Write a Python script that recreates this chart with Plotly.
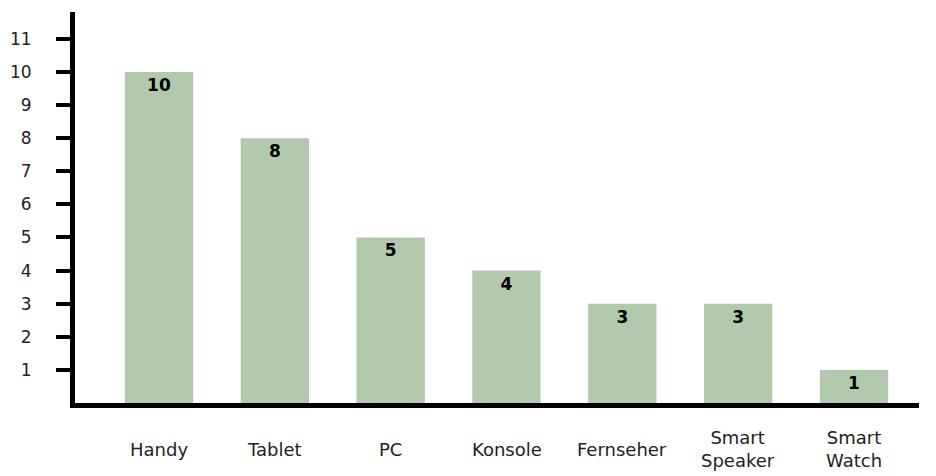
import plotly.graph_objects as go

# devices and counts
geraete = ['Handy', 'Tablet', 'PC', 'Konsole', 'Fernseher', 'Smart<br>Speaker', 'Smart<br>Watch']
anzahl = [10, 8, 5, 4, 3, 3, 1]
y_ticks = list(range(1, 12))

bar_color = '#b3c9ae'
font_fam = 'DejaVu Sans, sans-serif'

# page has an 8px body margin, so the figure is kept a bit smaller than the window
fig = go.Figure(go.Bar(
    x=geraete,
    y=anzahl,
    marker=dict(color=bar_color, line=dict(width=0)),
    text=[str(v) for v in anzahl],
    textposition='inside',
    insidetextanchor='end',
    textfont=dict(family=font_fam, size=17, color='black', weight='bold'),
    hoverinfo='x+y',
))

# category labels, vertically centred under each bar (like the original)
for g in geraete:
    fig.add_annotation(x=g, y=-0.118, xref='x', yref='paper',
                       text=g, showarrow=False, yanchor='middle',
                       font=dict(family=font_fam, size=18, color='#222222'))

fig.update_layout(
    width=928, height=468,
    margin=dict(l=67, r=17, t=4, b=73),
    plot_bgcolor='white', paper_bgcolor='white',
    bargap=0.41,
    showlegend=False,
    font=dict(family=font_fam, size=18, color='#222222'),
    xaxis=dict(
        range=[-0.725, 6.561], automargin=False,
        showline=True, linecolor='black', linewidth=5,
        showgrid=False, ticks='', showticklabels=False,
    ),
    yaxis=dict(
        range=[0, 11.81], automargin=False,
        tickvals=y_ticks,
        showline=True, linecolor='black', linewidth=5,
        showgrid=False, zeroline=False,
        ticks='outside', ticklen=14, tickwidth=4, tickcolor='black',
        ticklabelstandoff=21,
        tickfont=dict(size=17, color='#222222'),
    ),
)

fig.write_html('out.html')
